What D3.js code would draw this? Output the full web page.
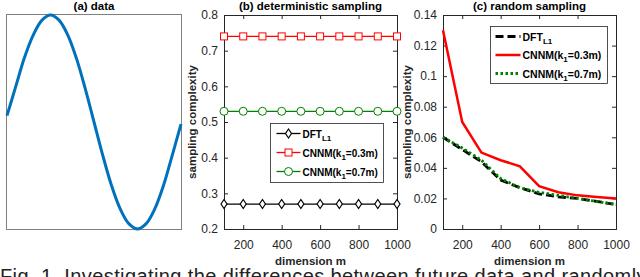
<!DOCTYPE html>
<html>
<head>
<meta charset="utf-8">
<script src="https://cdn.jsdelivr.net/npm/d3@7"></script>
<style>
  body { margin: 0; background: #fff; overflow: hidden; }
  text { font-family: "Liberation Sans", Arial, sans-serif; }
</style>
</head>
<body>
<script>
// page size
var svgWidth = 640;
var svgHeight = 277;

// (a) sine curve (t in 0..1, value -1..1)
var sineT = [0, 0.05, 0.1, 0.15, 0.2, 0.25, 0.3, 0.35, 0.4, 0.45, 0.5,
  0.55, 0.6, 0.65, 0.7, 0.75, 0.8, 0.85, 0.9, 0.95, 1];
var sineV = [0.06, 0.33, 0.6, 0.81, 0.95, 1.0, 0.95, 0.81, 0.59, 0.31, 0.0,
  -0.31, -0.59, -0.81, -0.95, -1.0, -0.95, -0.81, -0.59, -0.31, -0.02];

// shared x values
var dims = [100, 200, 300, 400, 500, 600, 700, 800, 900, 1000];
var xTicks = [200, 400, 600, 800, 1000];

// (b) deterministic sampling
var detDFT = [0.27, 0.27, 0.27, 0.27, 0.27, 0.27, 0.27, 0.27, 0.27, 0.27];
var detCNNM3 = [0.74, 0.74, 0.74, 0.74, 0.74, 0.74, 0.74, 0.74, 0.74, 0.74];
var detCNNM7 = [0.53, 0.53, 0.53, 0.53, 0.53, 0.53, 0.53, 0.53, 0.53, 0.53];
var detTicks = [0.2, 0.3, 0.4, 0.5, 0.6, 0.7, 0.8];

// (c) random sampling
var randDFT = [0.06, 0.052, 0.044, 0.032, 0.027, 0.023, 0.021, 0.020, 0.018, 0.016];
var randCNNM3 = [0.13, 0.07, 0.05, 0.045, 0.041, 0.028, 0.024, 0.022, 0.021, 0.020];
var randCNNM7 = [0.06, 0.053, 0.045, 0.033, 0.027, 0.024, 0.022, 0.020, 0.018, 0.016];
var randTicks = [0, 0.02, 0.04, 0.06, 0.08, 0.1, 0.12, 0.14];
var randTickLabels = ["0", "0.02", "0.04", "0.06", "0.08", "0.1", "0.12", "0.14"];

var svg = d3.select("body")
  .append("svg")
  .attr("width", svgWidth)
  .attr("height", svgHeight);

var axisColor = "#262626";
var plotTop = 15, plotBottom = 229;

// ---------- panel (a) ----------
var ax = d3.scaleLinear().domain([0, 1]).range([7, 181]);
var ay = d3.scaleLinear().domain([-1, 1]).range([229, 15]);

svg.append("rect")
  .attr("x", 6.5).attr("y", 14.5).attr("width", 175).attr("height", 215)
  .attr("fill", "none").attr("stroke", "#808080").attr("stroke-width", 1);

svg.append("path")
  .datum(sineT.map((t, i) => [t, sineV[i]]))
  .attr("fill", "none")
  .attr("stroke", "#0072BD")
  .attr("stroke-width", 3)
  .attr("d", d3.line().x(d => ax(d[0])).y(d => ay(d[1])).curve(d3.curveCatmullRom));

svg.append("text")
  .attr("x", 94).attr("y", 10)
  .attr("text-anchor", "middle")
  .attr("font-size", 11.5).attr("font-weight", "bold")
  .text("(a) data");

// helper: draw a boxed axes with inward ticks
function drawAxes(g, x, y, yTickVals, yTickFmt, title, w, h, yLabelOff) {
  var xAxis = d3.axisBottom(x).tickValues(xTicks).tickSize(-4).tickPadding(11).tickFormat(d3.format("d"));
  var yAxis = d3.axisLeft(y).tickValues(yTickVals).tickSize(-4).tickPadding(6).tickFormat(yTickFmt);
  var gx = g.append("g").attr("transform", `translate(0, ${h})`).call(xAxis);
  var gy = g.append("g").call(yAxis);
  var gx2 = g.append("g").call(d3.axisTop(x).tickValues(xTicks).tickSize(-4).tickFormat(""));
  var gy2 = g.append("g").attr("transform", `translate(${w}, 0)`)
    .call(d3.axisRight(y).tickValues(yTickVals).tickSize(-4).tickFormat(""));
  [gx, gy, gx2, gy2].forEach(function(a) {
    a.select(".domain").attr("stroke", axisColor);
    a.selectAll(".tick line").attr("stroke", axisColor);
    a.selectAll("text").attr("font-size", 12).attr("fill", axisColor)
      .attr("font-family", "Liberation Sans, Arial, sans-serif");
  });
  g.append("text")
    .attr("x", w / 2).attr("y", -5)
    .attr("text-anchor", "middle")
    .attr("font-size", 11.5).attr("font-weight", "bold")
    .text(title);
  g.append("text")
    .attr("x", w / 2).attr("y", h + 36)
    .attr("text-anchor", "middle")
    .attr("font-size", 11.5).attr("font-weight", "bold")
    .attr("fill", axisColor)
    .text("dimension m");
  g.append("text")
    .attr("transform", `translate(${yLabelOff}, ${h / 2}) rotate(-90)`)
    .attr("text-anchor", "middle")
    .attr("font-size", 11.5).attr("font-weight", "bold")
    .attr("fill", axisColor)
    .text("sampling complexity");
}

function legendLabel(t, base, sub, rest) {
  t.append("tspan").text(base);
  t.append("tspan").attr("font-size", 8).attr("dy", 3).text(sub);
  if (rest) t.append("tspan").attr("dy", -3).text(rest);
}

// ---------- panel (b) ----------
var bLeft = 224, bRight = 397;
var bw = bRight - bLeft, bh = plotBottom - plotTop;
var gb = svg.append("g").attr("transform", `translate(${bLeft}, ${plotTop})`);
var bx = d3.scaleLinear().domain([100, 1000]).range([0, bw]);
var by = d3.scaleLinear().domain([0.2, 0.8]).range([bh, 0]);
drawAxes(gb, bx, by, detTicks, d3.format(".1f"), "(b) deterministic sampling", bw, bh, -28);

var detSeries = [
  { vals: detCNNM3, color: "#FF0000", marker: "square" },
  { vals: detCNNM7, color: "#008000", marker: "circle" },
  { vals: detDFT, color: "#000000", marker: "diamond" }
];

function drawMarker(g, type, cx, cy, color) {
  if (type === "square") {
    g.append("rect").attr("x", cx - 3.5).attr("y", cy - 3.5).attr("width", 7).attr("height", 7)
      .attr("fill", "#fff").attr("stroke", color).attr("stroke-width", 1);
  } else if (type === "circle") {
    g.append("circle").attr("cx", cx).attr("cy", cy).attr("r", 4)
      .attr("fill", "#fff").attr("stroke", color).attr("stroke-width", 1);
  } else {
    g.append("path")
      .attr("d", `M${cx},${cy - 4.5}L${cx + 3},${cy}L${cx},${cy + 4.5}L${cx - 3},${cy}Z`)
      .attr("fill", "#fff").attr("stroke", color).attr("stroke-width", 1.2);
  }
}

detSeries.forEach(function(s) {
  gb.append("path")
    .datum(s.vals)
    .attr("fill", "none").attr("stroke", s.color).attr("stroke-width", 1.3)
    .attr("d", d3.line().x((d, i) => bx(dims[i])).y(d => by(d)));
  s.vals.forEach(function(v, i) {
    drawMarker(gb, s.marker, bx(dims[i]), by(v), s.color);
  });
});

// legend (b)
var lb = svg.append("g").attr("transform", "translate(270.5, 123.5)");
lb.append("rect").attr("width", 113).attr("height", 59)
  .attr("fill", "#fff").attr("stroke", axisColor).attr("stroke-width", 0.8);
var lbItems = [
  { s: detSeries[2], base: "DFT", sub: "L1", rest: "" },
  { s: detSeries[0], base: "CNNM(k", sub: "1", rest: "=0.3m)" },
  { s: detSeries[1], base: "CNNM(k", sub: "1", rest: "=0.7m)" }
];
lbItems.forEach(function(d, i) {
  var yy = 10 + i * 19;
  lb.append("line").attr("x1", 6).attr("x2", 30).attr("y1", yy).attr("y2", yy)
    .attr("stroke", d.s.color).attr("stroke-width", 1.3);
  drawMarker(lb, d.s.marker, 18, yy, d.s.color);
  var t = lb.append("text").attr("x", 32).attr("y", yy + 4)
    .attr("font-size", 10).attr("font-weight", "bold");
  legendLabel(t, d.base, d.sub, d.rest);
});

// ---------- panel (c) ----------
var cLeft = 443, cRight = 616;
var cw = cRight - cLeft, ch = plotBottom - plotTop;
var gc = svg.append("g").attr("transform", `translate(${cLeft}, ${plotTop})`);
var cx = d3.scaleLinear().domain([100, 1000]).range([0, cw]);
var cy = d3.scaleLinear().domain([0, 0.14]).range([ch, 0]);
drawAxes(gc, cx, cy, randTicks, (d, i) => randTickLabels[i], "(c) random sampling", cw, ch, -32);

var randSeries = [
  { vals: randCNNM3, color: "#FF0000", dash: null, width: 2.5 },
  { vals: randDFT, color: "#000000", dash: "8,4", width: 2.8 },
  { vals: randCNNM7, color: "#008000", dash: "2.5,2.5", width: 2.8 }
];
randSeries.forEach(function(s) {
  gc.append("path")
    .datum(s.vals)
    .attr("fill", "none").attr("stroke", s.color).attr("stroke-width", s.width)
    .attr("stroke-dasharray", s.dash)
    .attr("d", d3.line().x((d, i) => cx(dims[i])).y(d => cy(d)));
});

// legend (c)
var lc = svg.append("g").attr("transform", "translate(490.5, 26.5)");
lc.append("rect").attr("width", 117).attr("height", 57)
  .attr("fill", "#fff").attr("stroke", axisColor).attr("stroke-width", 0.8);
var lcItems = [
  { s: randSeries[1], base: "DFT", sub: "L1", rest: "" },
  { s: randSeries[0], base: "CNNM(k", sub: "1", rest: "=0.3m)" },
  { s: randSeries[2], base: "CNNM(k", sub: "1", rest: "=0.7m)" }
];
lcItems.forEach(function(d, i) {
  var yy = 10 + i * 18.5;
  lc.append("line").attr("x1", 5).attr("x2", 30).attr("y1", yy).attr("y2", yy)
    .attr("stroke", d.s.color).attr("stroke-width", d.s.width)
    .attr("stroke-dasharray", d.s.dash);
  var t = lc.append("text").attr("x", 32).attr("y", yy + 4)
    .attr("font-size", 10.5).attr("font-weight", "bold");
  legendLabel(t, d.base, d.sub, d.rest);
});

// caption (cut off at the bottom of the picture)
svg.append("text")
  .attr("x", 0).attr("y", 283)
  .attr("font-size", 20)
  .attr("letter-spacing", 0.4)
  .attr("fill", "#222")
  .text("Fig. 1. Investigating the differences between future data and randomly");
</script>
</body>
</html>
